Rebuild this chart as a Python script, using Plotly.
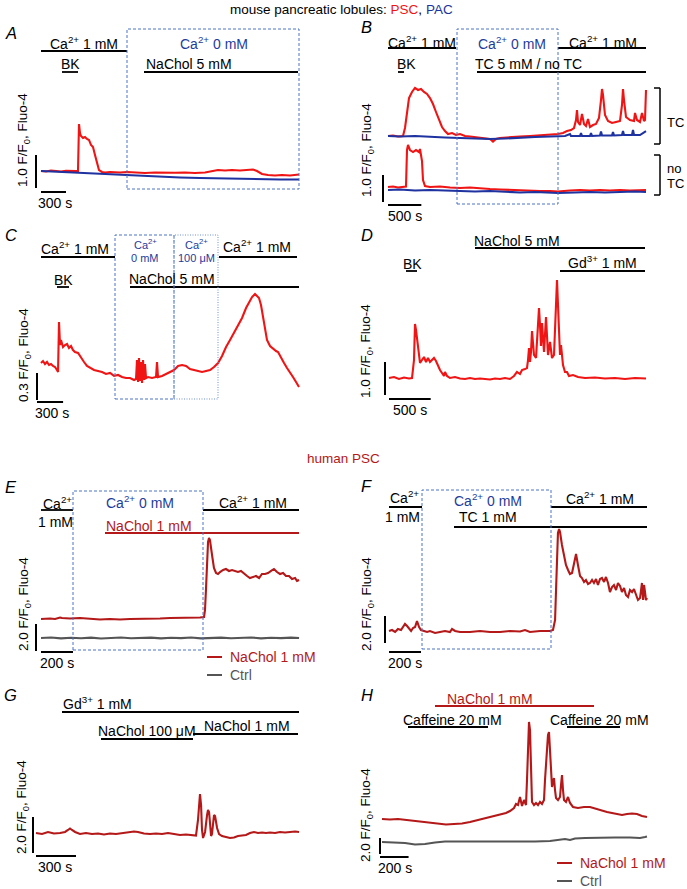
import plotly.graph_objects as go

W, H = 687, 889
RED = '#f01414'; BLUE = '#1e32a0'; DRED = '#b41818'; GRAY = '#555555'
BOXC = '#4a72c6'; BOXC2 = '#6f8fd2'; BLUET = '#1e3c9c'
FONT = 'Liberation Sans, Arial, Helvetica, sans-serif'
FS = 14

# ---------------- data: (time s, F/F0) ----------------
A_PSC = [(0,1.0),(60,0.985),(120,1.015),(180,1.0),(240,0.985),(300,1.006),(360,0.994),(420,1.0),(444,1.0),
         (456,2.424),(468,2.15),(480,2.06),(504,2.0),(528,2.03),(552,1.97),(576,1.94),(600,1.788),(624,1.727),
         (648,1.485),(672,1.242),(696,1.03),(732,0.97),(768,0.955),(828,0.97),(948,0.955),(1032,0.97),(1128,0.955),
         (1248,0.94),(1368,0.955),(1488,0.94),(1608,0.945),(1728,0.955),(1848,0.94),(1968,0.955),(2052,1.0),
         (2124,1.03),(2208,1.015),(2292,1.03),(2388,1.015),(2484,1.03),(2544,1.045),(2592,1.0),(2652,0.909),
         (2724,0.879),(2808,0.864),(2892,0.879),(2988,0.864),(3096,0.894)]
A_PAC = [(0,1.0),(228,0.97),(468,0.939),(708,0.909),(948,0.879),(1188,0.848),(1428,0.833),(1668,0.803),
         (1908,0.788),(2148,0.773),(2388,0.758),(2628,0.742),(2868,0.742),(3096,0.742)]

B_TC_PSC = [(0,1.0),(75,1.019),(150,0.981),(225,1.0),(255,1.296),(285,1.963),(315,2.407),(360,2.63),(405,2.778),
            (450,2.704),(495,2.741),(540,2.63),(585,2.556),(630,2.407),(675,2.185),(720,1.889),(765,1.593),
            (810,1.333),(855,1.185),(900,1.074),(960,1.111),(1020,1.037),(1080,1.074),(1155,1.0),(1230,0.981),
            (1305,0.963),(1380,0.944),(1455,0.926),(1530,0.889),(1575,0.796),(1620,0.889),(1680,0.926),
            (1830,0.963),(1980,0.981),(2130,1.0),(2280,1.019),(2430,1.037),(2550,1.074),(2625,1.111),(2685,1.185),
            (2745,1.222),(2790,1.296),(2820,1.593),(2835,1.963),(2850,1.519),(2880,1.407),(2910,1.815),
            (2940,1.444),(2970,1.37),(3000,1.63),(3030,1.333),(3075,1.407),(3120,1.444),(3165,1.667),(3195,2.333),
            (3210,2.741),(3225,2.519),(3255,1.778),(3300,1.556),(3360,1.481),(3420,1.519),(3480,1.556),
            (3510,2.148),(3525,2.741),(3540,2.333),(3570,1.704),(3630,1.593),(3690,1.556),(3705,1.852),
            (3735,1.593),(3780,1.519),(3810,1.852),(3840,1.556),(3855,1.593),(3870,2.704)]
B_TC_PAC = [(0,1.0),(180,0.981),(405,1.0),(630,0.963),(855,0.944),(1080,0.926),(1305,0.907),(1530,0.889),
            (1755,0.907),(1980,0.944),(2205,0.963),(2430,0.981),(2550,1.0),(2655,1.0),(2730,1.074),(2745,1.0),
            (2880,1.0),(2895,1.111),(2910,1.0),(3030,1.0),(3045,1.111),(3060,1.0),(3180,1.019),(3195,1.167),
            (3210,1.019),(3360,1.019),(3375,1.148),(3390,1.019),(3510,1.037),(3525,1.185),(3540,1.037),
            (3660,1.037),(3675,1.222),(3690,1.037),(3780,1.037),(3870,1.185)]
B_NOTC_PSC = [(0,1.0),(75,1.019),(150,0.981),(225,1.0),(270,1.019),(285,2.37),(300,2.556),(330,2.37),(375,2.296),
              (420,2.37),(465,2.296),(480,2.407),(510,1.963),(525,1.259),(555,1.037),(630,1.0),(780,1.019),
              (930,0.981),(1080,0.963),(1230,0.981),(1380,0.944),(1530,0.926),(1680,0.907),(1830,0.889),
              (1980,0.889),(2130,0.87),(2280,0.852),(2430,0.852),(2550,0.833),(2730,0.87),(2880,0.889),
              (3030,0.87),(3180,0.889),(3330,0.87),(3480,0.889),(3630,0.87),(3870,0.889)]
B_NOTC_PAC = [(0,0.889),(180,0.907),(405,0.87),(630,0.889),(855,0.87),(1080,0.852),(1305,0.833),(1530,0.852),
              (1755,0.815),(1980,0.796),(2205,0.815),(2430,0.778),(2550,0.778),(2805,0.796),(3030,0.815),
              (3255,0.796),(3480,0.815),(3705,0.833),(3870,0.815)]

C_PSC = [(0,1.0),(23,1.022),(46,0.989),(69,1.011),(92,0.978),(115,0.989),(138,0.967),(161,0.956),(184,0.922),
         (196,0.9),(207,1.456),(219,1.2),(230,1.256),(253,1.178),(276,1.2),(299,1.211),(322,1.167),(345,1.189),
         (368,1.144),(391,1.122),(426,1.111),(460,1.056),(495,1.011),(529,0.967),(564,0.944),(610,0.922),
         (656,0.911),(702,0.9),(748,0.878),(794,0.889),(840,0.856),(886,0.867),(932,0.844),(978,0.833),
         (1024,0.833),(1070,0.811),(1093,0.822),(1104,1.033),(1116,0.789),(1127,1.056),(1139,0.8),(1150,1.011),
         (1162,0.778),(1173,1.033),(1185,0.811),(1196,0.989),(1208,0.833),(1231,0.844),(1277,0.833),
         (1323,0.844),(1334,1.011),(1346,0.844),(1392,0.856),(1438,0.878),(1484,0.9),(1530,0.922),(1576,0.967),
         (1622,0.978),(1668,0.967),(1714,0.933),(1760,0.922),(1806,0.911),(1852,0.9),(1898,0.911),(1944,0.922),
         (1990,0.956),(2036,1.0),(2082,1.078),(2128,1.178),(2174,1.256),(2220,1.333),(2266,1.411),(2312,1.5),
         (2358,1.611),(2392,1.678),(2427,1.733),(2461,1.767),(2484,1.744),(2507,1.722),(2530,1.644),(2553,1.5),
         (2576,1.367),(2599,1.256),(2634,1.189),(2668,1.156),(2703,1.133),(2726,1.122),(2760,1.056),(2795,1.0),
         (2829,0.944),(2864,0.9),(2898,0.844),(2933,0.789),(2967,0.733)]

D_PSC = [(0,1.0),(60,1.03),(120,0.97),(180,1.015),(240,0.985),(276,1.0),(300,1.545),(312,2.636),(324,2.455),
         (348,1.848),(372,1.455),(396,1.545),(420,1.636),(444,1.485),(468,1.606),(492,1.485),(516,1.545),
         (540,1.606),(564,1.515),(588,1.364),(612,1.242),(636,1.152),(660,1.061),(672,1.182),(696,1.061),
         (732,1.0),(792,1.03),(852,0.985),(912,0.97),(972,1.0),(1032,0.97),(1092,0.985),(1152,0.97),(1212,0.955),
         (1272,0.985),(1332,0.97),(1392,1.0),(1452,0.97),(1500,1.061),(1536,1.182),(1572,1.121),(1596,1.242),
         (1632,1.273),(1656,1.303),(1668,1.545),(1680,1.909),(1692,1.485),(1704,1.788),(1716,2.424),(1740,1.697),
         (1764,1.606),(1788,2.455),(1800,3.121),(1812,2.606),(1824,1.97),(1836,2.667),(1860,1.788),(1884,2.848),
         (1908,1.697),(1932,2.091),(1956,1.606),(1980,1.697),(2004,3.364),(2016,3.97),(2028,3.212),(2040,2.152),
         (2052,1.697),(2064,2.0),(2076,1.606),(2088,1.394),(2112,1.182),(2136,1.182),(2160,1.061),(2208,1.091),
         (2268,1.03),(2352,1.0),(2472,1.015),(2592,0.985),(2712,1.0),(2832,0.97),(2952,1.0),(3084,0.985)]

E_NACHOL = [(0,1.0),(56,1.037),(88,1.0),(119,1.111),(131,1.074),(181,1.037),(244,1.074),(306,1.0),(369,0.963),
            (431,1.0),(494,0.963),(556,1.0),(619,1.0),(681,1.037),(744,1.037),(806,1.074),(869,1.074),(931,1.111),
            (994,1.111),(1019,1.148),(1025,1.667),(1031,3.148),(1038,5.37),(1044,6.704),(1050,7.0),(1056,6.852),
            (1069,5.741),(1081,4.778),(1094,4.407),(1106,4.333),(1119,4.481),(1138,4.63),(1156,4.704),
            (1175,4.556),(1194,4.63),(1213,4.556),(1231,4.481),(1250,4.556),(1269,4.333),(1288,4.185),
            (1306,4.037),(1325,4.111),(1344,4.185),(1363,4.037),(1381,4.333),(1400,4.333),(1419,4.407),
            (1438,4.556),(1456,4.704),(1475,4.481),(1494,4.333),(1513,4.407),(1531,4.185),(1550,4.185),
            (1569,3.963),(1588,4.037),(1600,3.815),(1613,3.889)]
E_CTRL = [(0,1.0),(63,1.04),(125,0.97),(188,1.02),(250,0.98),(313,1.03),(375,0.96),(438,1.01),(500,1.04),
          (563,0.98),(625,1.0),(688,1.03),(750,0.97),(813,1.02),(875,0.99),(938,1.04),(1000,0.97),(1063,1.01),
          (1125,1.03),(1188,0.98),(1250,1.0),(1313,1.04),(1375,0.97),(1438,1.02),(1500,0.99),(1563,1.03),
          (1613,1.0)]

F_TC = [(0,1.0),(19,1.074),(38,0.926),(56,1.148),(75,1.074),(88,1.296),(100,1.519),(113,1.37),(125,1.148),
        (138,1.0),(150,1.222),(163,1.296),(175,1.741),(188,1.296),(200,1.074),(219,1.0),(238,0.926),(256,1.0),
        (288,0.852),(319,0.926),(350,1.0),(381,0.926),(394,1.148),(413,1.0),(444,0.926),(506,0.926),(569,1.0),
        (631,0.926),(694,0.926),(756,1.0),(819,0.963),(850,1.074),(881,0.926),(944,1.0),(1006,1.0),(1025,1.074),
        (1038,1.815),(1044,4.037),(1050,6.63),(1056,8.259),(1063,8.556),(1069,8.333),(1081,7.37),(1094,6.481),
        (1106,5.889),(1119,5.519),(1131,5.222),(1144,5.296),(1156,5.889),(1169,6.704),(1181,5.889),(1194,5.074),
        (1206,4.926),(1219,4.63),(1231,4.778),(1244,4.481),(1256,4.556),(1269,4.778),(1281,4.556),(1294,4.852),
        (1306,4.407),(1319,4.852),(1331,4.926),(1344,4.63),(1356,5.0),(1369,4.556),(1381,3.889),(1394,4.259),
        (1406,4.407),(1419,4.037),(1431,4.556),(1444,4.333),(1456,3.889),(1469,4.185),(1481,3.667),(1494,3.519),
        (1506,4.037),(1519,3.889),(1531,4.111),(1544,3.741),(1556,3.296),(1569,3.444),(1581,4.556),(1588,3.296),
        (1594,4.407),(1600,3.889),(1606,3.296),(1613,3.444)]

G_GD = [(0,1.0),(45,0.944),(90,1.056),(135,0.972),(180,1.0),(218,1.056),(240,1.167),(255,1.25),(270,1.167),
        (293,1.056),(330,0.944),(375,1.0),(420,0.944),(465,0.972),(510,0.917),(555,0.972),(600,0.944),(645,1.0),
        (690,1.028),(735,1.083),(765,1.056),(810,0.972),(855,0.944),(900,0.972),(945,0.944),(990,1.0),
        (1035,0.944),(1080,0.889),(1125,0.917),(1170,0.889),(1200,0.861),(1215,1.722),(1223,2.833),(1230,3.167),
        (1238,2.556),(1245,1.167),(1253,0.722),(1268,1.056),(1283,2.0),(1290,2.278),(1298,2.167),(1305,1.444),
        (1313,0.833),(1320,0.944),(1328,1.611),(1335,2.0),(1343,1.944),(1358,1.278),(1373,0.944),(1395,0.833),
        (1425,0.778),(1455,0.722),(1485,0.75),(1515,0.833),(1545,0.861),(1575,0.889),(1605,1.0),(1635,1.056),
        (1665,1.0),(1695,1.028),(1725,1.0),(1755,1.028),(1793,1.0),(1830,1.056),(1868,1.028),(1905,1.056),
        (1943,1.083),(1973,1.056)]

H_NACHOL = [(0,1.0),(56,0.938),(112,1.0),(168,0.875),(224,0.813),(280,0.625),(336,0.5),(392,0.375),(448,0.313),
            (504,0.375),(560,0.438),(616,0.625),(672,0.875),(728,1.125),(784,1.375),(826,1.625),(868,1.75),
            (896,2.0),(924,2.375),(938,2.875),(952,2.75),(966,3.75),(973,3.0),(980,2.625),(994,3.375),(1008,2.75),
            (1015,5.875),(1022,11.5),(1029,13.125),(1036,12.125),(1043,7.125),(1050,3.125),(1064,2.75),(1078,3.0),
            (1092,2.75),(1106,3.125),(1120,2.875),(1134,3.375),(1141,5.875),(1148,7.5),(1155,9.0),(1162,11.5),
            (1169,11.875),(1176,9.625),(1183,6.5),(1190,5.0),(1197,5.625),(1204,6.125),(1211,4.625),(1218,3.625),
            (1232,3.375),(1246,3.75),(1253,5.25),(1260,6.5),(1267,4.625),(1274,3.375),(1288,3.125),(1302,3.75),
            (1316,3.0),(1337,2.5),(1372,2.375),(1414,2.5),(1456,2.5),(1498,2.25),(1540,2.0),(1575,1.875),
            (1610,1.75),(1645,1.625),(1680,1.5),(1715,1.625),(1750,1.688),(1785,1.625),(1820,1.375),(1855,1.25)]
H_CTRL = [(0,1.0),(91,0.938),(161,0.875),(231,0.688),(301,0.75),(371,0.938),(441,1.063),(546,1.063),(651,1.063),
          (756,1.0),(861,1.063),(966,1.063),(1071,1.063),(1176,1.125),(1246,1.25),(1281,1.375),(1316,1.25),
          (1351,1.438),(1421,1.5),(1526,1.563),(1631,1.563),(1736,1.563),(1806,1.5),(1841,1.625),(1855,1.688)]

# ---------------- panel calibration (layout) ----------------
PANELS = {
    'A': dict(box=(28, 305, 100, 200), x0=41, spx=12.0, groups={'main': (171, 33)}),
    'B': dict(box=(376, 652, 80, 210), x0=388, spx=15.0, groups={'up': (136, 27), 'low': (187, 27)}),
    'C': dict(box=(30, 305, 285, 405), x0=41, spx=11.5, groups={'main': (363, 90)}),
    'D': dict(box=(378, 652, 270, 402), x0=389, spx=12.0, groups={'main': (378, 33)}),
    'E': dict(box=(30, 305, 530, 656), x0=41, spx=6.25, groups={'main': (619, 13.5), 'ctrl': (638, 13.5)}),
    'F': dict(box=(378, 652, 520, 656), x0=389, spx=6.25, groups={'main': (631, 13.5)}),
    'G': dict(box=(28, 305, 785, 860), x0=36, spx=7.5, groups={'main': (833, 18)}),
    'H': dict(box=(374, 652, 712, 860), x0=382, spx=7.0, groups={'main': (819, 8), 'ctrl': (842, 8)}),
}

TRACES = [
    ('A', 'main', A_PSC, RED), ('A', 'main', A_PAC, BLUE),
    ('B', 'up', B_TC_PSC, RED), ('B', 'up', B_TC_PAC, BLUE),
    ('B', 'low', B_NOTC_PSC, RED), ('B', 'low', B_NOTC_PAC, BLUE),
    ('C', 'main', C_PSC, RED), ('D', 'main', D_PSC, RED),
    ('E', 'main', E_NACHOL, DRED), ('E', 'ctrl', E_CTRL, GRAY),
    ('F', 'main', F_TC, DRED), ('G', 'main', G_GD, DRED),
    ('H', 'main', H_NACHOL, DRED), ('H', 'ctrl', H_CTRL, GRAY),
]

SCALES = {
    'A': ('main', (36, 188, 1.0), (41, 192, 300), '300 s', (55, 203), '1.0', (24, 140)),
    'B': ('low', (383, 202, 1.0), (388, 205, 500), '500 s', (405, 216), '1.0', (367, 150)),
    'C': ('main', (37, 400, 0.3), (37, 402, 300), '300 s', (52, 413), '0.3', (24, 355)),
    'D': ('main', (385, 395, 1.0), (389, 399, 500), '500 s', (410, 410), '1.0', (367, 351)),
    'E': ('main', (36, 651, 2.0), (41, 652, 200), '200 s', (57, 663), '2.0', (24, 604)),
    'F': ('main', (385, 643, 2.0), (389, 652, 200), '200 s', (405, 663), '2.0', (367, 604)),
    'G': ('main', (33, 853, 2.0), (36, 856, 300), '300 s', (55, 867), '2.0', (22, 807)),
    'H': ('main', (380, 854, 2.0), (380, 857, 200), '200 s', (395, 868), '2.0', (366, 815)),
}

fig = go.Figure()
layout = {}
axis_of = {}
n = 0
for p, cfg in PANELS.items():
    L, R, T, B = cfg['box']
    for g, (y1, ky) in cfg['groups'].items():
        n += 1
        axis_of[(p, g)] = n
        sx = '' if n == 1 else str(n)
        layout['xaxis' + sx] = dict(domain=[L / W, R / W], range=[(L - cfg['x0']) * cfg['spx'], (R - cfg['x0']) * cfg['spx']],
                                    visible=False, anchor='y' + sx, fixedrange=True)
        layout['yaxis' + sx] = dict(domain=[1 - B / H, 1 - T / H], range=[1 + (y1 - B) / ky, 1 + (y1 - T) / ky],
                                    visible=False, anchor='x' + sx, fixedrange=True)


def ax(p, g):
    k = axis_of[(p, g)]
    s = '' if k == 1 else str(k)
    return 'x' + s, 'y' + s


def to_data(p, g, xp, yp):
    cfg = PANELS[p]
    y1, ky = cfg['groups'][g]
    return (xp - cfg['x0']) * cfg['spx'], 1 + (y1 - yp) / ky


for p, g, data, col in TRACES:
    xa, ya = ax(p, g)
    t = [d[0] for d in data]
    f = [d[1] for d in data]
    fig.add_trace(go.Scatter(x=t, y=f, mode='lines', line=dict(color=col, width=2.1),
                             xaxis=xa, yaxis=ya, hoverinfo='skip', showlegend=False))

shapes = []
anns = []


def text(x, y, s, size=FS, color='black', anchor='center', angle=0):
    anns.append(dict(x=x / W, y=1 - y / H, xref='paper', yref='paper', text=s, showarrow=False,
                     font=dict(size=size, color=color, family=FONT), xanchor=anchor, yanchor='middle',
                     textangle=angle))


def hbar(x0, x1, y, color='black', w=1.8):
    shapes.append(dict(type='line', xref='paper', yref='paper', x0=x0 / W, x1=x1 / W, y0=1 - y / H, y1=1 - y / H,
                       line=dict(color=color, width=w)))


def vbar(x, y0, y1, color='black', w=1.5):
    shapes.append(dict(type='line', xref='paper', yref='paper', x0=x / W, x1=x / W, y0=1 - y0 / H, y1=1 - y1 / H,
                       line=dict(color=color, width=w)))


def box(x0, y0, x1, y1, color=BOXC, dash='3px,2px', w=1):
    shapes.append(dict(type='rect', xref='paper', yref='paper', x0=x0 / W, x1=x1 / W, y0=1 - y1 / H, y1=1 - y0 / H,
                       line=dict(color=color, width=w, dash=dash), fillcolor='rgba(0,0,0,0)'))


CA = 'Ca<sup>2+</sup>'

for p, (g, v, h, hlab, hpos, vlab, lpos) in SCALES.items():
    xa, ya = ax(p, g)
    tv, fv = to_data(p, g, v[0], v[1])
    shapes.append(dict(type='line', xref=xa, yref=ya, x0=tv, x1=tv, y0=fv, y1=fv + v[2],
                       line=dict(color='black', width=2)))
    th, fh = to_data(p, g, h[0], h[1])
    shapes.append(dict(type='line', xref=xa, yref=ya, x0=th, x1=th + h[2], y0=fh, y1=fh,
                       line=dict(color='black', width=2)))
    text(hpos[0], hpos[1], hlab)
    text(lpos[0], lpos[1], vlab + ' F/F<sub>0</sub>, Fluo-4', size=13.5, angle=-90)

text(341, 9, 'mouse pancreatic lobules: <span style="color:%s">PSC</span>, <span style="color:%s">PAC</span>' % (RED, BLUE), size=13.5)
text(343, 458, 'human PSC', color=DRED, size=13.5)
for lab, (x, y) in {'A': (11, 33), 'B': (367, 27), 'C': (11, 235), 'D': (367, 235),
                    'E': (11, 487), 'F': (367, 486), 'G': (10, 695), 'H': (367, 695)}.items():
    text(x, y, '<i>%s</i>' % lab, size=16.5)

# Panel A
text(84, 43, CA + ' 1 mM'); text(214, 43, CA + ' 0 mM', color=BLUET)
text(70, 64, 'BK'); text(189, 64, 'NaChol 5 mM')
hbar(41, 127, 51); hbar(62, 78, 72); hbar(144, 298, 72)
box(127, 29, 299, 189)

# Panel B
text(422, 42, CA + ' 1 mM'); text(512, 43, CA + ' 0 mM', color=BLUET); text(603, 42, CA + ' 1 mM')
text(406, 64, 'BK'); text(528, 64, 'TC 5 mM / no TC')
hbar(388, 456, 48); hbar(558, 646, 48); hbar(398, 404, 72); hbar(477, 646, 72)
box(457, 29, 558, 204)
for (y0, y1) in [(88, 144), (155, 195)]:
    vbar(660, y0, y1); hbar(654, 660, y0, w=1.5); hbar(654, 660, y1, w=1.5)
text(665, 123, 'TC', size=13, anchor='left')
text(665, 168, 'no', size=13, anchor='left'); text(665, 183, 'TC', size=13, anchor='left')

# Panel C
text(75, 248, CA + ' 1 mM'); text(257, 246, CA + ' 1 mM')
text(145, 244, CA, size=11, color=BLUET); text(145, 258, '0 mM', size=11, color=BLUET)
text(196, 244, CA, size=11, color=BLUET); text(196, 258, '100 μM', size=11, color=BLUET)
text(63, 280, 'BK'); text(172, 279, 'NaChol 5 mM')
hbar(41, 115, 257); hbar(219, 297, 257); hbar(57, 69, 287); hbar(130, 299, 287)
box(115, 235, 174, 399)
box(174, 235, 218, 399, color=BOXC2, dash='1px,1.5px')

# Panel D
text(517, 241, 'NaChol 5 mM'); text(412, 264, 'BK'); text(602, 262, 'Gd<sup>3+</sup> 1 mM')
hbar(475, 645, 248); hbar(406, 417, 271); hbar(560, 645, 271)

# Panel E
text(57, 503, CA); text(55, 522, '1 mM')
text(140, 502, CA + ' 0 mM', color=BLUET)
text(149, 526, 'NaChol 1 mM', color=DRED)
text(253, 502, CA + ' 1 mM')
hbar(41, 73, 510); hbar(105, 299, 533, color=DRED); hbar(203, 299, 510)
box(73, 491, 203, 650)
hbar(207, 222, 657, color=DRED, w=2); text(228, 657, 'NaChol 1 mM', color=DRED, anchor='left')
hbar(207, 222, 675, color=GRAY, w=2); text(228, 675, 'Ctrl', color=GRAY, anchor='left')

# Panel F
text(404, 497, CA); text(402, 517, '1 mM')
text(488, 500, CA + ' 0 mM', color=BLUET); text(488, 517, 'TC 1 mM')
text(600, 498, CA + ' 1 mM')
hbar(389, 422, 507); hbar(454, 647, 527); hbar(551, 647, 507)
box(422, 490, 551, 649)

# Panel G
text(97, 703, 'Gd<sup>3+</sup> 1 mM'); text(147, 731, 'NaChol 100 μM'); text(247, 726, 'NaChol 1 mM')
hbar(62, 299, 712); hbar(101, 193, 739); hbar(193, 298, 734)

# Panel H
text(490, 699, 'NaChol 1 mM', color=DRED)
text(452, 720, 'Caffeine 20 mM'); text(599, 720, 'Caffeine 20 mM')
hbar(435, 594, 706, color=DRED); hbar(408, 488, 727); hbar(567, 620, 727)
hbar(557, 572, 863, color=DRED, w=2); text(578, 863, 'NaChol 1 mM', color=DRED, anchor='left')
hbar(557, 572, 881, color=GRAY, w=2); text(578, 881, 'Ctrl', color=GRAY, anchor='left')

fig.update_layout(width=W, height=H, margin=dict(l=0, r=0, t=0, b=0), paper_bgcolor='white',
                  plot_bgcolor='rgba(0,0,0,0)', showlegend=False, shapes=shapes, annotations=anns,
                  font=dict(family=FONT, size=FS, color='black'), **layout)
fig.write_html("out.html", config={'displayModeBar': False, 'staticPlot': True},
               post_script="document.body.style.margin='0';document.body.style.overflow='hidden';")
